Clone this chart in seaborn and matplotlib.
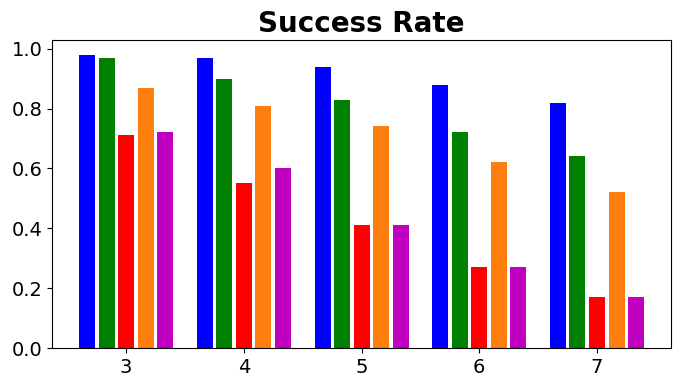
import seaborn as sns
import matplotlib
matplotlib.use("Agg")
import matplotlib.pyplot as plt
import pandas as pd

groups = ["3", "4", "5", "6", "7"]
series = ["s1", "s2", "s3", "s4", "s5"]
blue_vals = [0.98, 0.97, 0.94, 0.88, 0.82]
green_vals = [0.97, 0.90, 0.83, 0.72, 0.64]
red_vals = [0.71, 0.55, 0.41, 0.27, 0.17]
orange_vals = [0.87, 0.81, 0.74, 0.62, 0.52]
magenta_vals = [0.72, 0.60, 0.41, 0.27, 0.17]
colors = ["blue", "green", "red", "#ff7f0e", "#bf00bf"]

rows = []
for name, vals in zip(series, [blue_vals, green_vals, red_vals, orange_vals, magenta_vals]):
    for g, v in zip(groups, vals):
        rows.append({"group": g, "series": name, "rate": v})
df = pd.DataFrame(rows)

fig, ax = plt.subplots(figsize=(6.8, 3.87), dpi=100)
sns.barplot(data=df, x="group", y="rate", hue="series", order=groups, hue_order=series,
            palette=colors, saturation=1, width=0.83, gap=0.18, legend=False,
            errorbar=None, ax=ax)

ax.set_title("Success Rate", fontsize=20, fontweight="bold")
ax.set_xlabel("")
ax.set_ylabel("")
ax.set_xlim(-0.63, 4.63)
ax.set_ylim(0, 1.029)
ax.set_yticks([0.0, 0.2, 0.4, 0.6, 0.8, 1.0])
ax.tick_params(labelsize=14)

plt.subplots_adjust(left=0.0765, right=0.987, top=0.897, bottom=0.1)
plt.savefig("out.png")
